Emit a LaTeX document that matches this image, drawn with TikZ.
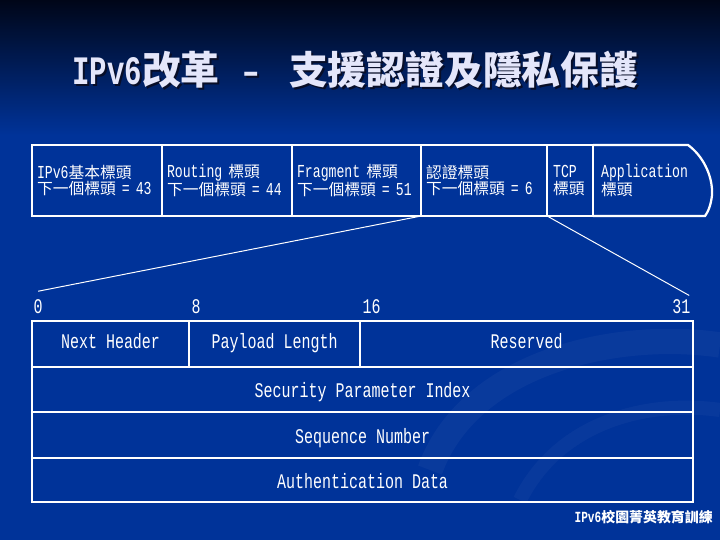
\documentclass[tikz,border=0pt]{standalone}
\usepackage{fontspec}
\setmainfont{Liberation Mono}[FakeStretch=0.72]
\newfontfamily\cjk{Noto Sans CJK TC}
\usetikzlibrary{positioning, calc}
\definecolor{slideblue}{RGB}{0, 51, 153}
\definecolor{slidenight}{RGB}{0, 6, 24}
\definecolor{titlelav}{RGB}{228, 230, 250}
\definecolor{shadownavy}{RGB}{8, 14, 40}
\newcommand{\hdrfont}{\fontsize{13}{12}\selectfont}
\newcommand{\cellfont}{\fontsize{14.8}{16}\selectfont}
\newcommand{\hz}[1]{{\cjk\fontsize{11.2}{12}\selectfont #1}}
\newcommand{\tz}[1]{{\cjk\fontsize{27.6}{30}\selectfont #1}}
\newcommand{\fz}[1]{{\cjk\fontsize{9.9}{11}\selectfont #1}}
\newcommand{\titleline}{IPv6\tz{改革}\hspace{16pt}\textendash\hspace{21pt}\tz{支援認證及隱私保護}}
\tikzset{
  hdrbox/.style={rectangle, draw=white, line width=1.6pt, outer sep=0pt, anchor=north west, minimum height=1.775cm, inner xsep=0.125cm, inner ysep=0pt, align=left, text=white, font=\hdrfont},
  cellbox/.style={rectangle, draw=white, line width=1.8pt, outer sep=0pt, anchor=north west, inner sep=0pt, text height=10pt, text depth=3pt, text=white, font=\cellfont},
  rowbox/.style={cellbox, minimum width=16.525cm, text height=13pt, text depth=1pt},
  bitlbl/.style={inner sep=1pt, text=white, font=\cellfont},
  titletext/.style={inner sep=0pt, anchor=west, text=titlelav, font=\fontsize{28.7}{30}\selectfont\bfseries},
  zoomline/.style={white, line width=0.7pt}
}
\begin{document}
\begin{tikzpicture}[x=0.025cm, y=-0.025cm]
    \useasboundingbox (0,0) rectangle (720,540);

    % Background
    \fill[slideblue] (0,0) rectangle (720,540);
    \shade[top color=slidenight, bottom color=slideblue] (0,0) rectangle (720,135);
    \draw[white, opacity=0.035, line width=18pt] (430,470) .. controls (470,360) and (620,330) .. (720,345);
    \draw[white, opacity=0.03, line width=10pt] (520,500) .. controls (560,420) and (650,400) .. (720,410);

    % Title
    \node[titletext, text=shadownavy] (titleshadow) at (74,72) {\titleline};
    \node[titletext] (title) at (72,70) {\titleline};

    % Header chain
    \node[hdrbox, text width=3.0cm] (ipv6hdr) at (32,145) {IPv6\hz{基本標頭}\\\hz{下一個標頭} = 43};
    \node[hdrbox, text width=3.0cm, right=0pt of ipv6hdr] (routhdr) {Routing \hz{標頭}\\\hz{下一個標頭} = 44};
    \node[hdrbox, text width=2.975cm, right=0pt of routhdr] (fraghdr) {Fragment \hz{標頭}\\\hz{下一個標頭} = 51};
    \node[hdrbox, text width=2.9cm, right=0pt of fraghdr] (ahhdr) {\hz{認證標頭}\\\hz{下一個標頭} = 6};
    \node[hdrbox, text width=0.85cm, inner xsep=0.15cm, right=0pt of ahhdr] (tcphdr) {TCP\\\hz{標頭}};
    \node[hdrbox, draw=none, text width=2.6cm, inner xsep=0.2cm, right=0pt of tcphdr] (apphdr) {Application\\\hz{標頭}};
    \draw[white, line width=1.6pt] (apphdr.north west) -- (688,145)
        .. controls (702,155) and (713,175) .. (712,195)
        .. controls (711,205) and (708,212) .. (705,216) -- (apphdr.south west);

    % AH format
    \node[cellbox, minimum width=3.925cm, minimum height=1.15cm] (nhcell) at (32,321) {Next Header};
    \node[cellbox, minimum width=4.275cm, minimum height=1.15cm, right=0pt of nhcell] (plcell) {Payload Length};
    \node[cellbox, minimum width=8.325cm, minimum height=1.15cm, right=0pt of plcell] (rescell) {Reserved};
    \node[rowbox, minimum height=1.125cm] (spicell) at (nhcell.south west) {Security Parameter Index};
    \node[rowbox, minimum height=1.15cm] (seqcell) at (spicell.south west) {Sequence Number};
    \node[rowbox, minimum height=1.1cm] (authcell) at (seqcell.south west) {Authentication Data};

    % Bit positions
    \node[bitlbl, anchor=west] (bit0) at (32,307) {0};
    \node[bitlbl, anchor=west] (bit8) at (190,307) {8};
    \node[bitlbl, anchor=west] (bit16) at (361,307) {16};
    \node[bitlbl, anchor=east] (bit31) at (692,307) {31};

    % Zoom lines
    \draw[zoomline] (ahhdr.south west) -- ([yshift=5pt]bit0.north);
    \draw[zoomline] (ahhdr.south east) -- ([xshift=-2pt, yshift=2pt]bit31.north east);

    \node[anchor=east, inner sep=0pt, text=white, font=\fontsize{11}{12}\selectfont\bfseries] (footer) at (713,517) {IPv6\fz{校園菁英教育訓練}};
\end{tikzpicture}
\end{document}
